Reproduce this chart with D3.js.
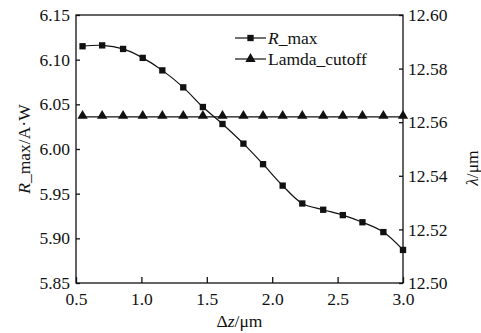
<!DOCTYPE html>
<html>
<head>
<meta charset="utf-8">
<script src="https://cdn.jsdelivr.net/npm/d3@7"></script>
<style>
  body { margin: 0; background: #fff; }
  svg { display: block; }
  svg text { font-family: "Liberation Serif", "Times New Roman", serif !important; fill: #111; }
</style>
</head>
<body>
<svg width="481" height="333"></svg>
<script>
// Δz values (µm)
const dz = [0.55, 0.70, 0.86, 1.01, 1.16, 1.32, 1.47, 1.62, 1.78, 1.93, 2.08, 2.23, 2.39, 2.54, 2.69, 2.85, 3.00];
// R_max (A/W), left axis
const rMax = [6.115, 6.116, 6.112, 6.102, 6.088, 6.069, 6.047, 6.028, 6.006, 5.983, 5.959, 5.939, 5.932, 5.926, 5.918, 5.907, 5.887];
// Lamda_cutoff (µm), right axis
const lamda = [12.562, 12.562, 12.562, 12.562, 12.562, 12.562, 12.562, 12.562, 12.562, 12.562, 12.562, 12.562, 12.562, 12.562, 12.562, 12.562, 12.562];

const xTicks = [0.5, 1.0, 1.5, 2.0, 2.5, 3.0];
const yLeftTicks = [5.85, 5.90, 5.95, 6.00, 6.05, 6.10, 6.15];
const yRightTicks = [12.50, 12.52, 12.54, 12.56, 12.58, 12.60];

const svg = d3.select("svg");
const L = 76, R = 403, T = 15, B = 283;

const x = d3.scaleLinear().domain([0.5, 3.0]).range([L, R]);
const yL = d3.scaleLinear().domain([5.85, 6.15]).range([B, T]);
const yR = d3.scaleLinear().domain([12.50, 12.60]).range([B, T]);

// frame
svg.append("rect")
  .attr("x", L).attr("y", T)
  .attr("width", R - L).attr("height", B - T)
  .attr("fill", "none").attr("stroke", "#111").attr("stroke-width", 1.3);

// bottom axis
const gx = svg.append("g").attr("transform", `translate(0,${B})`)
  .call(d3.axisBottom(x).tickValues(xTicks).tickFormat(d3.format(".1f")).tickSizeInner(-6).tickSizeOuter(0).tickPadding(10));
// left axis
const gl = svg.append("g").attr("transform", `translate(${L},0)`)
  .call(d3.axisLeft(yL).tickValues(yLeftTicks).tickFormat(d3.format(".2f")).tickSizeInner(-4).tickSizeOuter(0).tickPadding(6));
// right axis
const gr = svg.append("g").attr("transform", `translate(${R},0)`)
  .call(d3.axisRight(yR).tickValues(yRightTicks).tickFormat(d3.format(".2f")).tickSizeInner(-4).tickSizeOuter(0).tickPadding(5));

[gx, gl, gr].forEach(g => {
  g.attr("font-family", null);
  g.select(".domain").remove();
  g.selectAll("line").attr("stroke", "#111").attr("stroke-width", 1.3);
  g.selectAll("text").attr("font-size", 17.5).attr("fill", "#111");
});

// curves
const lineR = d3.line().x((d, i) => x(dz[i])).y(d => yL(d)).curve(d3.curveCatmullRom);
const lineL = d3.line().x((d, i) => x(dz[i])).y(d => yR(d));

svg.append("path").datum(lamda).attr("d", lineL)
  .attr("fill", "none").attr("stroke", "#111").attr("stroke-width", 1.2);
svg.append("path").datum(rMax).attr("d", lineR)
  .attr("fill", "none").attr("stroke", "#111").attr("stroke-width", 1.2);

const sq = d3.symbol().type(d3.symbolSquare).size(40);
const tri = d3.symbol().type(d3.symbolTriangle).size(46);

svg.selectAll(".sq").data(rMax).enter().append("path")
  .attr("class", "sq").attr("d", sq)
  .attr("transform", (d, i) => `translate(${x(dz[i])},${yL(d)})`)
  .attr("fill", "#111");
svg.selectAll(".tri").data(lamda).enter().append("path")
  .attr("class", "tri").attr("d", tri)
  .attr("transform", (d, i) => `translate(${x(dz[i])},${yR(d) - 1})`)
  .attr("fill", "#111");

// legend
const lg = svg.append("g");
const rows = [
  { y: 38, sym: sq, label: ["R", "_max"] },
  { y: 59, sym: tri, label: ["", "Lamda_cutoff"] }
];
rows.forEach(r => {
  lg.append("line").attr("x1", 235).attr("x2", 266).attr("y1", r.y).attr("y2", r.y)
    .attr("stroke", "#111").attr("stroke-width", 1.2);
  lg.append("path").attr("d", r.sym).attr("transform", `translate(250.5,${r.y})`).attr("fill", "#111");
  const t = lg.append("text").attr("x", 268).attr("y", r.y + 5.5).attr("font-size", 17.5);
  if (r.label[0]) t.append("tspan").attr("font-style", "italic").text(r.label[0]);
  t.append("tspan").text(r.label[1]);
});

// axis titles
svg.append("text")
  .attr("transform", `translate(30,${(T + B) / 2}) rotate(-90)`)
  .attr("text-anchor", "middle").attr("font-size", 17.5)
  .call(t => {
    t.append("tspan").attr("font-style", "italic").text("R");
    t.append("tspan").text("_max/A·W");
  });

svg.append("text")
  .attr("transform", `translate(478,168) rotate(-90)`)
  .attr("text-anchor", "middle").attr("font-size", 17.5)
  .call(t => {
    t.append("tspan").attr("font-style", "italic").text("λ");
    t.append("tspan").text("/μm");
  });

svg.append("text")
  .attr("x", (L + R) / 2).attr("y", 327)
  .attr("text-anchor", "middle").attr("font-size", 17.5)
  .call(t => {
    t.append("tspan").text("Δ");
    t.append("tspan").attr("font-style", "italic").text("z");
    t.append("tspan").text("/μm");
  });
</script>
</body>
</html>
